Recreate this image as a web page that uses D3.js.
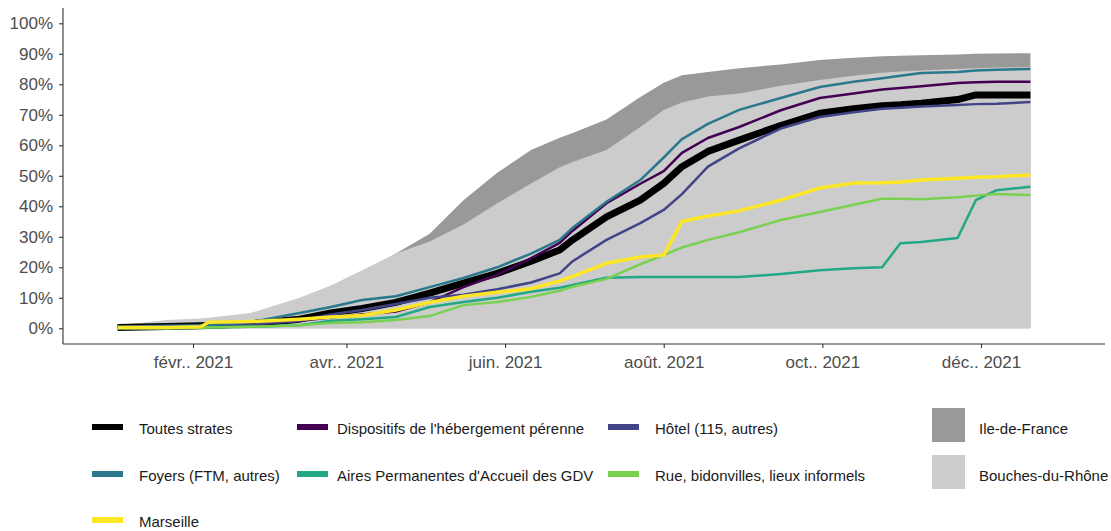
<!DOCTYPE html>
<html><head><meta charset="utf-8">
<script src="https://cdn.jsdelivr.net/npm/d3@7"></script>
<style>
html,body{margin:0;padding:0;background:#fff;}
svg{display:block;font-family:"Liberation Sans",Arial,sans-serif;}
</style></head>
<body>
<script>
// ---- data ----
const dates = ["2021-01-03","2021-01-22","2021-02-04","2021-02-07","2021-02-23","2021-03-14","2021-03-26",
  "2021-04-07","2021-04-20","2021-05-03","2021-05-16","2021-05-29","2021-06-11","2021-06-22","2021-06-27",
  "2021-07-10","2021-07-23","2021-08-01","2021-08-08","2021-08-18","2021-08-30","2021-09-15","2021-09-30",
  "2021-10-13","2021-10-24","2021-10-31","2021-11-08","2021-11-22","2021-11-29","2021-12-07","2021-12-20"];

const ileDeFrance   = [1,2.5,3,3.3,4.5,9.5,13.5,18.5,24.5,31,42,51,58.5,62.5,64,68.5,75.8,80.5,83,84,85.3,86.5,88,88.7,89.2,89.4,89.5,89.8,90,90.1,90.2];
const bouchesRhone  = [1,2.7,3.2,3.5,5,10,14,19,24.5,28.5,34,41,47.5,52.8,54.5,58.5,66,71.6,74,76,77,79.5,81.4,82.8,83.8,84.2,84.5,85,85.3,85.5,85.7];

const toutesStrates = [0.3,0.6,0.8,0.9,1.5,3,5,6.5,8.5,11.5,14.8,18,22,25.7,29,36.5,42,47.5,53,58,61.7,66.5,70.5,72,73,73.3,73.8,75,76.5,76.5,76.5];
const dispositifs   = [0.3,0.5,0.7,0.8,1.2,2.5,3.5,4.5,5.5,8.5,13.5,17.5,23,28,32,41,47.4,51.5,57.5,62.4,66,71.5,75.5,77,78.3,78.8,79.4,80.4,80.7,80.8,80.8];
const hotel         = [0.3,0.5,0.7,0.8,1.2,2.5,4.5,6,8,10,11,12.8,15,18,22,29,34.5,38.8,44,53,59,65.5,69.3,70.8,72,72.3,72.7,73.2,73.5,73.6,74.2];
const foyers        = [0.5,0.8,1,1.1,2,5,7,9.3,10.5,13.5,16.5,20,24.5,29,33,41.5,48.6,56,62,67,71.6,75.5,79.1,80.8,82,82.8,83.7,84,84.5,84.8,85];
const aires         = [0,0,0.2,0.3,0.5,1,2.5,3,3.7,7,8.6,10,12,13.3,14.2,16.6,16.8,16.8,16.8,16.8,16.8,17.8,19,19.7,20,27.9,28.3,29.6,42,45.3,46.4];
const rue           = [0,0,0.2,0.3,0.5,1,1.7,2,2.7,4,7.6,8.6,10.3,12.3,13.6,16.2,21,24,26.5,29,31.5,35.5,38.1,40.5,42.5,42.5,42.3,43,43.5,44,43.7];
const marseille     = [0.3,0.3,0.5,2,2.2,3,3.7,4.2,6,8.5,10.5,11.8,13,15.5,17,21.3,23.4,24,35,36.8,38.5,42,46,47.6,47.7,48,48.6,49.2,49.5,49.7,50.3];

const yTicks = [0,10,20,30,40,50,60,70,80,90,100];
const xTickDates  = ["2021-02-01","2021-04-01","2021-06-01","2021-08-01","2021-10-01","2021-12-01"];
const xTickLabels = ["févr.. 2021","avr.. 2021","juin. 2021","août. 2021","oct.. 2021","déc.. 2021"];

const lineNames  = ["Toutes strates","Dispositifs de l'hébergement pérenne","Hôtel (115, autres)",
                    "Foyers (FTM, autres)","Aires Permanentes d'Accueil des GDV","Rue, bidonvilles, lieux informels","Marseille"];
const lineColors = ["#000000","#440154","#414487","#2A788E","#22A884","#7AD151","#FDE725"];
const lineValues = [toutesStrates, dispositifs, hotel, foyers, aires, rue, marseille];
const areaNames  = ["Ile-de-France","Bouches-du-Rhône"];
const areaColors = ["#999999","#cccccc"];
const areaValues = [ileDeFrance, bouchesRhone];

// ---- drawing ----
const W = 1111, H = 531;
const svg = d3.select("body").append("svg").attr("width", W).attr("height", H);
const parse = d3.utcParse("%Y-%m-%d");
const dts = dates.map(parse);

const xRef = d3.scaleUtc().domain([parse("2021-02-01"), parse("2021-12-01")]).range([193, 981]);
const x = d3.scaleUtc().domain([xRef.invert(63), xRef.invert(1105)]).range([63, 1105]);
const yRef = d3.scaleLinear().domain([0, 100]).range([328.3, 23.3]);
const y = d3.scaleLinear().domain([yRef.invert(344), yRef.invert(8)]).range([344, 8]);

// areas
areaValues.forEach((vals, i) => {
  const area = d3.area().x((d, j) => x(dts[j])).y0(y(0)).y1(d => y(d));
  svg.append("path").datum(vals).attr("d", area).attr("fill", areaColors[i]);
});

// lines
const widths = [7, 2.5, 2.5, 2.5, 2.5, 2.5, 3.5];
lineValues.forEach((vals, i) => {
  const line = d3.line().x((d, j) => x(dts[j])).y(d => y(d));
  svg.append("path").datum(vals).attr("d", line).attr("fill", "none")
    .attr("stroke", lineColors[i]).attr("stroke-width", widths[i]).attr("stroke-linejoin", "round");
});

// axes
const gy = svg.append("g").attr("transform", "translate(63,0)")
  .call(d3.axisLeft(y).tickValues(yTicks).tickSize(4).tickPadding(6).tickFormat(d => d + "%"));
const gx = svg.append("g").attr("transform", "translate(0,344)")
  .call(d3.axisBottom(x).tickValues(xTickDates.map(parse)).tickSize(4).tickPadding(8)
    .tickFormat((d, i) => xTickLabels[i]));
[gx, gy].forEach(g => {
  g.select(".domain").attr("stroke", "#333").attr("stroke-width", 1.1);
  g.selectAll(".tick line").attr("stroke", "#333").attr("stroke-width", 1.1);
  g.selectAll(".tick text").attr("fill", "#4d4d4d").style("font-size", "17px")
    .style("font-family", "'Liberation Sans',Arial,sans-serif");
});
gx.select(".domain").attr("d", "M63,0H1105");
gy.select(".domain").attr("d", "M0,8V344");

// legend (lines)
const colKeyX = [92, 297, 608], colTextX = [139, 337, 655], rowY = [429, 476, 522];
lineNames.forEach((name, i) => {
  const c = i % 3, r = Math.floor(i / 3);
  svg.append("rect").attr("x", colKeyX[c]).attr("y", rowY[r] - 5).attr("width", 31).attr("height", 6)
    .attr("fill", lineColors[i]);
  svg.append("text").attr("x", colTextX[c]).attr("y", rowY[r] + 5.4).text(name)
    .attr("fill", "#1a1a1a").style("font-size", "15px");
});
// legend (areas)
areaNames.forEach((name, i) => {
  svg.append("rect").attr("x", 932).attr("y", rowY[i] - 21).attr("width", 33).attr("height", 34)
    .attr("fill", areaColors[i]);
  svg.append("text").attr("x", 979).attr("y", rowY[i] + 5.4).text(name)
    .attr("fill", "#1a1a1a").style("font-size", "15px");
});
</script>
</body></html>
